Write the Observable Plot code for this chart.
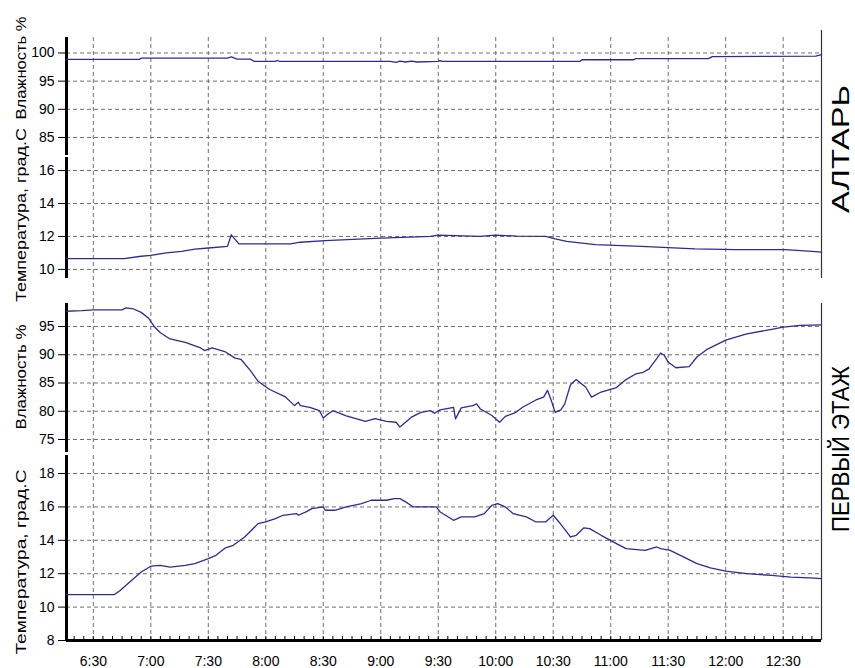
<!DOCTYPE html>
<html>
<head>
<meta charset="utf-8">
<script src="https://cdn.jsdelivr.net/npm/d3@7"></script>
<script src="https://cdn.jsdelivr.net/npm/@observablehq/plot@0.6"></script>
<style>
  html, body { margin: 0; padding: 0; background: #fff; }
  #chart { position: relative; width: 855px; height: 668px; font-family: "Liberation Sans", Arial, sans-serif; }
  #chart svg { position: absolute; left: 0; overflow: visible; }
</style>
</head>
<body>
<div id="chart"></div>
<script>
// ---------------- DATA ----------------
const X_TICKS = ["6:30","7:00","7:30","8:00","8:30","9:00","9:30","10:00","10:30","11:00","11:30","12:00","12:30"];
const X_START = "6:16";
const X_END = "12:50";

const HUM_LABEL = "Влажность %";
const TEMP_LABEL = "Температура, град.С";
const GROUP_LABELS = ["АЛТАРЬ", "ПЕРВЫЙ ЭТАЖ"];

// Altar – humidity
const altarHumTicks = [85, 90, 95, 100];
const altarHumTime  = ["6:16","6:54","6:55","7:40","7:42","7:45","7:52","7:54","8:05","8:06","8:07","8:55","9:05","9:08","9:10","9:13","9:16","9:19","9:30","9:31","9:32","10:44","10:45","11:12","11:13","11:51","11:53","12:47","12:50"];
const altarHumValue = [98.85,98.85,99.1,99.1,99.3,98.9,98.9,98.5,98.5,98.7,98.5,98.5,98.5,98.35,98.55,98.4,98.55,98.4,98.5,98.65,98.5,98.5,98.8,98.8,99.0,99.0,99.35,99.45,99.7];

// Altar – temperature
const altarTempTicks = [10, 12, 14, 16];
const altarTempTime  = ["6:16","6:46","6:55","7:00","7:08","7:16","7:23","7:30","7:40","7:42","7:46","8:13","8:18","8:31","9:00","9:26","9:30","9:52","10:00","10:11","10:26","10:31","10:37","10:52","11:16","11:44","12:05","12:31","12:45","12:50"];
const altarTempValue = [10.65,10.65,10.8,10.85,11.0,11.1,11.23,11.3,11.4,12.1,11.55,11.55,11.65,11.75,11.9,12.0,12.08,12.0,12.08,12.02,12.0,11.85,11.7,11.5,11.4,11.25,11.2,11.2,11.1,11.05];

// First floor – humidity
const floorHumTicks = [75, 80, 85, 90, 95];
const floorHumTime  = ["6:16","6:24","6:30","6:45","6:47","6:51","6:55","6:59","7:02","7:05","7:10","7:18","7:26","7:28","7:32","7:39","7:44","7:47","7:52","7:56","8:02","8:10","8:15","8:17","8:18","8:23","8:28","8:30","8:32","8:35","8:42","8:47","8:52","8:57","9:03","9:08","9:10","9:16","9:21","9:26","9:28","9:31","9:38","9:39","9:42","9:48","9:50","9:52","9:58","10:02","10:05","10:10","10:14","10:21","10:25","10:27","10:29","10:31","10:34","10:36","10:39","10:42","10:47","10:50","10:55","11:03","11:08","11:13","11:17","11:20","11:24","11:26","11:28","11:30","11:34","11:41","11:45","11:50","12:00","12:11","12:24","12:30","12:39","12:50"];
const floorHumValue = [97.7,97.8,97.95,97.95,98.3,98.1,97.5,96.4,94.9,93.9,92.8,92.2,91.2,90.75,91.2,90.5,89.4,89.2,87.2,85.3,83.85,82.6,81.0,81.6,81.0,80.7,80.1,78.8,79.4,80.1,79.2,78.7,78.2,78.7,78.2,78.05,77.2,78.95,79.8,80.1,79.65,80.25,80.7,78.65,80.6,81.0,81.3,80.4,79.25,78.05,79.1,79.7,80.7,82.0,82.5,83.7,81.9,79.8,80.25,81.3,84.7,85.6,84.25,82.5,83.4,84.2,85.6,86.6,86.9,87.5,89.3,90.3,89.9,88.7,87.7,87.9,89.6,90.9,92.6,93.7,94.5,94.9,95.2,95.3];

// First floor – temperature
const floorTempTicks = [8, 10, 12, 14, 16, 18];
const floorTempTime  = ["6:16","6:41","6:44","6:49","6:55","7:00","7:05","7:10","7:18","7:23","7:30","7:34","7:39","7:43","7:49","7:56","8:00","8:05","8:09","8:16","8:17","8:21","8:24","8:30","8:31","8:36","8:42","8:50","8:55","9:03","9:07","9:10","9:13","9:17","9:29","9:31","9:38","9:42","9:49","9:54","9:58","10:01","10:05","10:09","10:16","10:21","10:26","10:30","10:33","10:37","10:39","10:42","10:46","10:49","10:55","11:03","11:08","11:18","11:24","11:26","11:31","11:39","11:45","11:52","12:00","12:11","12:24","12:34","12:44","12:50"];
const floorTempValue = [10.75,10.75,11.0,11.5,12.1,12.45,12.5,12.4,12.5,12.6,12.9,13.1,13.55,13.7,14.2,15.0,15.1,15.3,15.5,15.6,15.5,15.7,15.9,16.0,15.8,15.8,16.0,16.2,16.4,16.4,16.5,16.5,16.3,16.0,16.0,15.7,15.2,15.4,15.4,15.6,16.1,16.2,16.0,15.6,15.4,15.1,15.1,15.5,15.1,14.5,14.2,14.3,14.75,14.7,14.3,13.8,13.5,13.4,13.6,13.5,13.4,12.95,12.6,12.35,12.15,12.0,11.9,11.8,11.75,11.7];

// ---------------- RENDER ----------------
const parseT = s => { const [h, m] = s.split(":").map(Number); return new Date(Date.UTC(2000, 0, 1, h, m)); };
const LINE = "#2c2c96";
const GRID = "#707070";
const FONT = "'Liberation Sans', Arial, sans-serif";
const chart = document.getElementById("chart");
const x0 = parseT(X_START), x1 = parseT(X_END);
const xTickDates = X_TICKS.map(parseT);

function makePanel(cfg) {
  const { times, values, ticks, domain, top, bottom, showX,
          gridExtTop = 0, gridExtBottom = 0, borderExtTop = 0, borderExtBottom = 0 } = cfg;
  const mb = showX ? 28 : 0;
  const h = bottom - top + mb;
  const data = times.map((s, i) => ({ time: parseT(s), value: values[i] }));
  const marks = [
    Plot.gridY(ticks, { stroke: GRID, strokeOpacity: 1, strokeDasharray: "4,3" }),
    Plot.gridX(xTickDates, { stroke: GRID, strokeOpacity: 1, strokeDasharray: "4,3",
                             insetTop: -gridExtTop, insetBottom: -gridExtBottom }),
    Plot.axisY(ticks, { tickSize: 8, tickPadding: 4, label: null, fontSize: 14, tickFormat: d => String(d) }),
    Plot.ruleX([x0], { stroke: "#000", strokeWidth: 3 }),
    Plot.ruleX([x1], { stroke: "#333", strokeWidth: 1.2, insetTop: -borderExtTop, insetBottom: -borderExtBottom }),
    Plot.line(data, { x: "time", y: "value", stroke: LINE, strokeWidth: 1.3 })
  ];
  if (showX) {
    const minor = d3.utcMinute.every(5).range(parseT("6:20"), parseT("12:50"));
    marks.push(Plot.axisX(xTickDates, { tickSize: 0, tickPadding: 16, label: null, fontSize: 14,
                                        tickFormat: d3.utcFormat("%-H:%M") }));
    marks.push(Plot.ruleX(minor, { y1: domain[0], y2: domain[0], insetTop: -4, stroke: "#000", strokeWidth: 1 }));
    marks.push(Plot.ruleY([domain[0]], { stroke: "#000", strokeWidth: 3 }));
  }
  const svg = Plot.plot({
    width: 855, height: h,
    marginTop: 0, marginBottom: mb, marginLeft: 66, marginRight: 34,
    style: { fontFamily: FONT, fontSize: "14px", color: "#000", background: "transparent", overflow: "visible" },
    x: { type: "utc", domain: [x0, x1], axis: showX ? undefined : null },
    y: { domain },
    marks
  });
  svg.style.position = "absolute";
  svg.style.top = top + "px";
  svg.style.left = "0px";
  chart.appendChild(svg);
}

makePanel({ times: altarHumTime, values: altarHumValue, ticks: altarHumTicks,
            domain: [81.8, 102.75], top: 37, bottom: 155, showX: false, borderExtTop: 7, borderExtBottom: 2 });
makePanel({ times: altarTempTime, values: altarTempValue, ticks: altarTempTicks,
            domain: [9.45, 16.79], top: 157, bottom: 278, showX: false, gridExtBottom: 12 });
makePanel({ times: floorHumTime, values: floorHumValue, ticks: floorHumTicks,
            domain: [72.7, 99.07], top: 303, bottom: 452, showX: false, gridExtTop: 12, borderExtBottom: 3 });
makePanel({ times: floorTempTime, values: floorTempValue, ticks: floorTempTicks,
            domain: [8, 19.08], top: 455, bottom: 640, showX: true });

// Titles (rotated)
const ov = d3.select("#chart").append("svg")
  .attr("width", 855).attr("height", 668)
  .style("position", "absolute").style("left", "0px").style("top", "0px")
  .style("pointer-events", "none");
const titles = [
  { text: HUM_LABEL,  x: 26, y: 68,  len: 103, size: 14 },
  { text: TEMP_LABEL, x: 26, y: 215, len: 174, size: 14 },
  { text: HUM_LABEL,  x: 26, y: 377, len: 105, size: 14 },
  { text: TEMP_LABEL, x: 26, y: 562, len: 185, size: 14 },
  { text: GROUP_LABELS[0], x: 849, y: 149, len: 128, size: 24 },
  { text: GROUP_LABELS[1], x: 849, y: 449, len: 166, size: 24 }
];
ov.selectAll("text").data(titles).join("text")
  .attr("transform", d => `translate(${d.x},${d.y}) rotate(-90)`)
  .attr("text-anchor", "middle")
  .attr("font-family", FONT)
  .attr("font-size", d => d.size)
  .attr("fill", "#000")
  .attr("textLength", d => d.len)
  .attr("lengthAdjust", "spacingAndGlyphs")
  .text(d => d.text);
</script>
</body>
</html>
